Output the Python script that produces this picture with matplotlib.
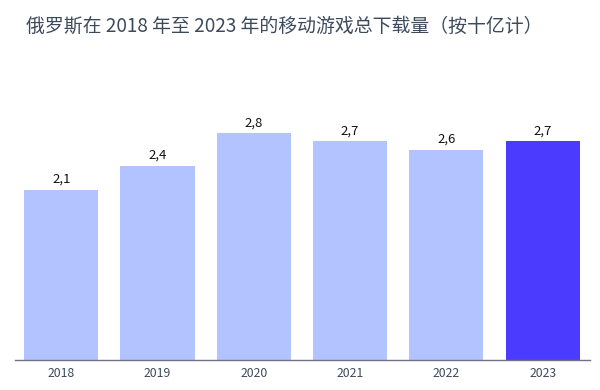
import matplotlib.pyplot as plt

plt.rcParams['font.family'] = ['Noto Sans CJK SC', 'DejaVu Sans']

anos = ['2018', '2019', '2020', '2021', '2022', '2023']
descargas = [2.1, 2.4, 2.8, 2.7, 2.6, 2.7]
etiquetas = ['2,1', '2,4', '2,8', '2,7', '2,6', '2,7']

color_claro = '#b3c3ff'
color_fuerte = '#4b3bff'
colores = [color_claro] * (len(anos) - 1) + [color_fuerte]

fig = plt.figure(figsize=(6, 3.9), dpi=100)
ax = fig.add_axes([0.025, 0.077, 0.958, 0.693])

x = range(len(anos))
barras = ax.bar(x, descargas, width=0.77, color=colores)

for b, txt in zip(barras, etiquetas):
    ax.text(b.get_x() + b.get_width() / 2, b.get_height() + 0.05, txt,
            ha='center', va='bottom', fontsize=9.5, color='#111111')

ax.set_xlim(-0.48, 5.49)
ax.set_ylim(0, 3.34)
ax.set_xticks(list(x))
ax.set_xticklabels(anos, fontsize=8.8, color='#3d4a5c')
ax.tick_params(axis='x', length=0, pad=5)
ax.set_yticks([])
for lado in ['top', 'right', 'left']:
    ax.spines[lado].set_visible(False)
ax.spines['bottom'].set_color('#6b7385')
ax.spines['bottom'].set_linewidth(1)

fig.text(0.043, 0.934, '俄罗斯在 2018 年至 2023 年的移动游戏总下载量（按十亿计）',
         fontsize=13.6, color='#3d4a5c', va='center', ha='left')

fig.savefig('out.png', dpi=100)
